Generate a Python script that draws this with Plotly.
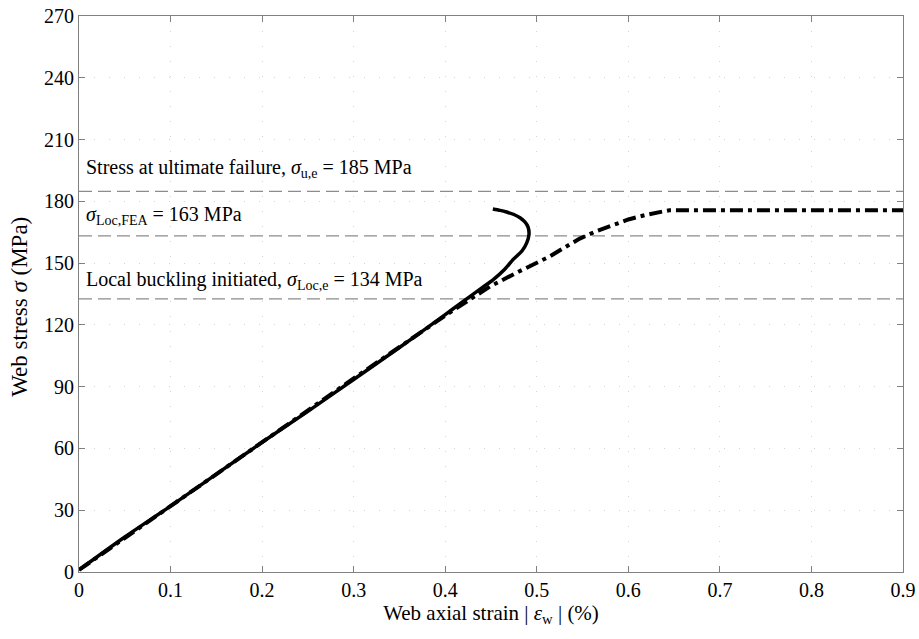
import plotly.graph_objects as go

# Solid curve (experimental)
exp_strain = [0.0, 0.05, 0.1, 0.15, 0.2, 0.25, 0.3, 0.35, 0.4, 0.42, 0.44, 0.4525, 0.465, 0.474,
              0.484, 0.489, 0.4915, 0.4905, 0.487, 0.4817, 0.475, 0.467, 0.46, 0.452]
exp_stress = [1.0, 17.0, 32.0, 47.5, 63.0, 78.0, 93.5, 109.0, 125.0, 131.5, 138.0, 142.0, 147.0, 151.7,
              156.0, 159.8, 164.0, 167.5, 170.0, 172.0, 173.6, 174.8, 175.6, 176.3]

# Dash-dot curve (FEA)
fea_strain = [0.0, 0.1, 0.2, 0.3, 0.4, 0.416, 0.432, 0.449, 0.48, 0.5145, 0.53, 0.547, 0.565, 0.5836,
              0.60, 0.62, 0.633, 0.645, 0.9]
fea_stress = [1.0, 32.0, 63.5, 94.0, 124.5, 129.0, 134.0, 138.7, 145.8, 153.3, 157.5, 161.9, 165.5, 168.7,
              171.2, 173.5, 174.8, 175.7, 175.7]

# Reference stress levels (horizontal dashed lines)
ref_levels = [184.8, 163.2, 132.6]
ref_labels = ["Stress at ultimate failure, <i>σ</i><sub>u,e</sub> = 185 MPa",
              "<i>σ</i><sub>Loc,FEA</sub> = 163 MPa",
              "Local buckling initiated, <i>σ</i><sub>Loc,e</sub> = 134 MPa"]
label_y = [196.0, 173.0, 141.5]

x_ticks = [0, 0.1, 0.2, 0.3, 0.4, 0.5, 0.6, 0.7, 0.8, 0.9]
x_ticklabels = ["0", "0.1", "0.2", "0.3", "0.4", "0.5", "0.6", "0.7", "0.8", "0.9"]
y_ticks = [0, 30, 60, 90, 120, 150, 180, 210, 240, 270]

FONT = "Liberation Serif"

fig = go.Figure()

for lv in ref_levels:
    fig.add_trace(go.Scatter(x=[0, 0.9], y=[lv, lv], mode="lines",
                             line=dict(color="#8c8c8c", width=1.3, dash="13px,6px"),
                             showlegend=False, hoverinfo="skip"))

fig.add_trace(go.Scatter(x=exp_strain, y=exp_stress, mode="lines",
                         line=dict(color="black", width=3.5, shape="spline", smoothing=0.8),
                         showlegend=False))
fig.add_trace(go.Scatter(x=fea_strain, y=fea_stress, mode="lines",
                         line=dict(color="black", width=4, dash="13px,5px,4px,5px"),
                         showlegend=False))

for txt, yy in zip(ref_labels, label_y):
    fig.add_annotation(x=0.0, y=yy, xref="x", yref="y", text=txt, showarrow=False,
                       xanchor="left", yanchor="middle", xshift=5,
                       font=dict(family=FONT, size=20, color="black"))

# y-axis title as annotation for precise placement
fig.add_annotation(x=-0.0716, y=0.477, xref="paper", yref="paper",
                   text="Web stress <i>σ</i> (MPa)", textangle=-90, showarrow=False,
                   xanchor="center", yanchor="middle",
                   font=dict(family=FONT, size=23, color="black"))

axis_common = dict(
    showline=True, linecolor="#808080", linewidth=1, mirror="allticks",
    ticks="inside", ticklen=6, tickcolor="#808080", tickwidth=1,
    showgrid=True, gridcolor="#d4d4d4", gridwidth=1, griddash="1px,14px",
    zeroline=False, automargin=False, ticklabeloverflow="allow",
    tickfont=dict(family=FONT, size=20, color="black"),
)

fig.update_xaxes(range=[0, 0.9], tickvals=x_ticks, ticktext=x_ticklabels,
                 title=dict(text="Web axial strain | <i>ε</i><sub>w</sub> | (%)",
                            font=dict(family=FONT, size=21, color="black"), standoff=2),
                 **axis_common)
fig.update_yaxes(range=[0, 270], tickvals=y_ticks, **axis_common)

fig.update_layout(width=919, height=639,
                  margin=dict(l=79, r=16, t=16, b=67),
                  paper_bgcolor="white", plot_bgcolor="white",
                  font=dict(family=FONT),
                  showlegend=False)

fig.write_html("out.html", config={"displayModeBar": False},
               post_script="document.body.style.margin='0px';document.body.style.overflow='hidden';")
